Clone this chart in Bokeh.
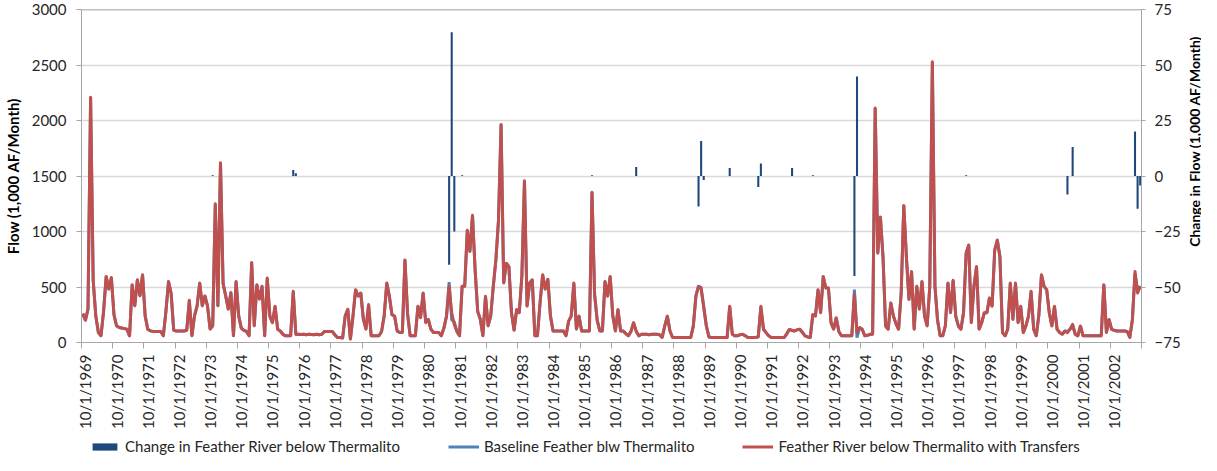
import math
from bokeh.plotting import figure
from bokeh.layouts import row, column
from bokeh.models import (ColumnDataSource, Range1d, LinearAxis, FixedTicker,
                          Legend, LegendItem, Span)
from bokeh.core.properties import value
from bokeh.embed import file_html
from bokeh.resources import INLINE

# water years run Oct..Sep, first month is Oct 1969
year_labels = ["10/1/1969", "10/1/1970", "10/1/1971", "10/1/1972", "10/1/1973",
               "10/1/1974", "10/1/1975", "10/1/1976", "10/1/1977", "10/1/1978",
               "10/1/1979", "10/1/1980", "10/1/1981", "10/1/1982", "10/1/1983",
               "10/1/1984", "10/1/1985", "10/1/1986", "10/1/1987", "10/1/1988",
               "10/1/1989", "10/1/1990", "10/1/1991", "10/1/1992", "10/1/1993",
               "10/1/1994", "10/1/1995", "10/1/1996", "10/1/1997", "10/1/1998",
               "10/1/1999", "10/1/2000", "10/1/2001", "10/1/2002"]

# Feather River below Thermalito with Transfers (1,000 AF/month), Oct..Sep each row
flow_transfers = [
    260, 200, 300, 2210, 560, 240, 90, 60, 280, 595, 480, 585,      # 1970
    250, 150, 135, 130, 125, 120, 60, 520, 330, 565, 420, 610,      # 1971
    240, 120, 105, 100, 100, 100, 100, 60, 280, 550, 440, 110,      # 1972
    104, 104, 104, 104, 110, 380, 60, 240, 330, 535, 330, 420,      # 1973
    330, 120, 150, 1250, 330, 1620, 530, 420, 300, 450, 60, 550,    # 1974
    240, 130, 110, 100, 60, 720, 150, 520, 390, 506, 60, 580,       # 1975
    238, 178, 327, 120, 104, 74, 60, 60, 60, 461, 74, 74,           # 1976
    72, 74, 70, 74, 72, 70, 74, 70, 74, 100, 100, 100,              # 1977
    100, 70, 45, 45, 40, 238, 300, 30, 238, 476, 417, 446,          # 1978
    208, 120, 342, 60, 60, 60, 60, 100, 238, 535, 417, 250,         # 1979
    238, 104, 90, 90, 744, 260, 60, 60, 60, 327, 223, 446,          # 1980
    179, 208, 119, 90, 90, 90, 60, 130, 238, 505, 268, 160,         # 1981
    100, 60, 506, 506, 1012, 820, 1146, 655, 280, 210, 60, 417,     # 1982
    149, 238, 506, 744, 1100, 1964, 536, 714, 684, 268, 110, 298,   # 1983
    268, 600, 1458, 327, 536, 565, 60, 60, 357, 610, 480, 570,      # 1984
    238, 104, 104, 104, 104, 104, 60, 193, 238, 535, 120, 238,      # 1985
    104, 104, 104, 104, 1354, 430, 200, 104, 104, 550, 417, 595,    # 1986
    238, 104, 298, 104, 104, 80, 60, 100, 179, 104, 60, 74,         # 1987
    74, 74, 70, 74, 74, 74, 70, 45, 150, 238, 104, 45,              # 1988
    45, 45, 45, 45, 45, 45, 45, 150, 420, 500, 495, 320,            # 1989
    149, 50, 45, 45, 45, 45, 45, 45, 45, 327, 74, 60,               # 1990
    60, 70, 74, 60, 45, 45, 45, 45, 50, 327, 119, 89,               # 1991
    60, 45, 45, 45, 45, 45, 45, 80, 119, 110, 104, 115,             # 1992
    119, 90, 60, 50, 45, 253, 238, 476, 268, 595, 491, 491,         # 1993
    179, 119, 223, 100, 60, 60, 60, 60, 60, 432, 89, 134,           # 1994
    119, 60, 65, 74, 74, 2113, 804, 1131, 774, 149, 119, 357,       # 1995
    238, 170, 119, 446, 1235, 774, 387, 640, 119, 506, 300, 550,    # 1996
    238, 149, 500, 2530, 506, 200, 60, 60, 150, 536, 268, 560,      # 1997
    238, 149, 119, 268, 804, 878, 179, 506, 684, 119, 180, 268,     # 1998
    268, 402, 327, 833, 923, 774, 89, 60, 119, 536, 208, 536,       # 1999
    179, 327, 89, 150, 238, 461, 119, 60, 250, 610, 506, 476,       # 2000
    268, 149, 327, 119, 90, 74, 104, 89, 120, 164, 74, 60,          # 2001
    149, 60, 60, 60, 60, 60, 60, 60, 60, 521, 89, 208,              # 2002
    119, 110, 104, 104, 104, 104, 100, 45, 208, 640, 446, 506,      # 2003
]

# Change in Feather River below Thermalito (1,000 AF/month), non-zero months only
change_months = ["1973-12", "1976-07", "1976-08", "1981-07", "1981-08", "1981-09",
                 "1981-12", "1986-02", "1987-07", "1989-07", "1989-08", "1989-09",
                 "1990-07", "1991-06", "1991-07", "1992-07", "1993-03", "1994-07",
                 "1994-08", "1998-02", "2001-05", "2001-07", "2003-07", "2003-08",
                 "2003-09"]
change_values = [0.3, 2.7, 1.2, -40, 64.7, -25,
                 0.3, 0.3, 4, -13.7, 15.8, -1.8,
                 3.6, -5, 5.6, 3.6, 0.3, -45,
                 44.8, 0.3, -8.3, 13.1, 20, -14.7,
                 -4.3]

FONT = "Lato"
TXT = "#262626"
GRID = "#d9d9d9"
AXIS = "#a6a6a6"
C_CHANGE = "#1F497D"
C_BASE = "#4F81BD"
C_FLOW = "#C0504D"

n = len(flow_transfers)
xs = [i + 0.5 for i in range(n)]


def month_pos(s):
    y, m = (int(v) for v in s.split("-"))
    return (y - 1969) * 12 + (m - 10)


change_full = [0.0] * n
for d, v in zip(change_months, change_values):
    change_full[month_pos(d)] = v
# baseline = with transfers minus change
baseline = [f - c for f, c in zip(flow_transfers, change_full)]

line_src = ColumnDataSource(dict(x=xs, flow=flow_transfers, base=baseline))
bar_src = ColumnDataSource(dict(x=[month_pos(d) + 0.5 for d in change_months],
                                top=change_values))

CHART_W = 1184
CHART_H = 437
p = figure(width=CHART_W, height=CHART_H, x_range=Range1d(0, n),
           y_range=Range1d(0, 3000),
           output_backend="svg", toolbar_location=None,
           min_border_left=74, min_border_right=43, min_border_top=9,
           min_border_bottom=95)
p.extra_y_ranges = {"chg": Range1d(-75, 75)}
p.outline_line_color = None
p.background_fill_color = "white"
p.border_fill_color = "white"

p.vbar(x="x", top="top", bottom=0, width=0.8, source=bar_src,
       y_range_name="chg", fill_color=C_CHANGE, line_color=None)
p.line("x", "base", source=line_src, line_color=C_BASE, line_width=3)
p.line("x", "flow", source=line_src, line_color=C_FLOW, line_width=3, line_join="round")

p.add_layout(Span(location=3000, dimension="width", line_color="#808080",
                  line_width=1.5))

# grid
p.xgrid.visible = False
p.ygrid.grid_line_color = GRID
p.ygrid.grid_line_width = 1.5
p.ygrid.ticker = FixedTicker(ticks=list(range(0, 3001, 500)))

# x axis: tick marks at year boundaries, labels just after them
xa = p.xaxis[0]
xa.ticker = FixedTicker(ticks=[12 * k + 1.5 for k in range(len(year_labels))],
                        minor_ticks=[12 * k for k in range(len(year_labels) + 1)])
xa.major_label_overrides = {12 * k + 1.5: lab for k, lab in enumerate(year_labels)}
xa.major_label_orientation = math.pi / 2
xa.axis_label = None
xa.axis_label_standoff = 0
xa.major_tick_out = 0
xa.major_tick_in = 0
xa.minor_tick_out = 6
xa.minor_tick_in = 0
xa.minor_tick_line_color = AXIS
xa.axis_line_color = AXIS
xa.major_label_standoff = 6
xa.major_label_text_font = FONT
xa.major_label_text_font_size = "15px"
xa.major_label_text_color = TXT

# left axis
ya = p.yaxis[0]
ya.ticker = FixedTicker(ticks=list(range(0, 3001, 500)))
ya.axis_label = "Flow (1,000 AF/Month)"
ya.axis_label_text_font = FONT
ya.axis_label_text_font_style = "bold"
ya.axis_label_text_font_size = "15px"
ya.axis_label_text_color = "black"
ya.axis_label_standoff = 7
ya.major_label_text_font = FONT
ya.major_label_text_font_size = "15px"
ya.major_label_text_color = TXT
ya.major_label_standoff = 10
ya.major_tick_out = 5
ya.major_tick_in = 0
ya.minor_tick_line_color = None
ya.axis_line_color = AXIS
ya.major_tick_line_color = AXIS

# right axis (its title is drawn in the narrow strip next to the chart)
ra = LinearAxis(y_range_name="chg", ticker=FixedTicker(ticks=[-75, -50, -25, 0, 25, 50, 75]))
ra.axis_label = None
ra.axis_label_standoff = 0
ra.major_label_text_font = FONT
ra.major_label_text_font_size = "15px"
ra.major_label_text_color = TXT
ra.major_label_standoff = 9
ra.major_tick_out = 4
ra.major_tick_in = 0
ra.minor_tick_line_color = None
ra.axis_line_color = AXIS
ra.major_tick_line_color = AXIS
p.add_layout(ra, "right")

# strip holding the right-hand axis title, reading bottom to top
right_title = "Change in Flow (1,000 AF/Month)"
STRIP_W = 1201 - CHART_W
q = figure(width=STRIP_W, height=CHART_H, x_range=Range1d(0, STRIP_W),
           y_range=Range1d(0, CHART_H),
           output_backend="svg", toolbar_location=None,
           x_axis_location=None, y_axis_location=None,
           min_border_left=0, min_border_right=0, min_border_top=0, min_border_bottom=0)
q.grid.visible = False
q.outline_line_color = None
q.text(x=[STRIP_W / 2 + 1], y=[CHART_H - 173], text=[right_title], angle=math.pi / 2,
       text_align="center", text_baseline="middle", text_font=value(FONT),
       text_font_style="bold", text_font_size="14px", text_color="black")

# legend strip under the date labels; key glyphs sit outside the strip's ranges
LEG_H = 455 - CHART_H
lg = figure(width=1201, height=LEG_H, x_range=Range1d(0, 1), y_range=Range1d(0, 1),
            output_backend="svg", toolbar_location=None,
            x_axis_location=None, y_axis_location=None,
            min_border_left=0, min_border_right=0, min_border_top=0, min_border_bottom=0)
lg.grid.visible = False
lg.outline_line_color = None
k_bar = lg.vbar(x=[-5], top=[-5], bottom=-6, width=0.1, fill_color=C_CHANGE,
                line_color=None)
k_base = lg.line(x=[-5, -4], y=[-5, -5], line_color=C_BASE, line_width=3)
k_flow = lg.line(x=[-5, -4], y=[-5, -5], line_color=C_FLOW, line_width=3)
legend = Legend(items=[
    LegendItem(label="Change in Feather River below Thermalito", renderers=[k_bar]),
    LegendItem(label="Baseline Feather blw Thermalito", renderers=[k_base]),
    LegendItem(label="Feather River below Thermalito with Transfers", renderers=[k_flow]),
], orientation="horizontal", location=(89, 0), spacing=48, glyph_width=31,
    glyph_height=9, label_standoff=5, label_height=17, label_text_font=FONT,
    label_text_font_size="15px", label_text_color=TXT, border_line_color=None,
    background_fill_alpha=0, padding=0, margin=0)
lg.add_layout(legend)

layout = column(row(p, q, spacing=0), lg, spacing=0)
open("out.html", "w").write(file_html(layout, INLINE))
